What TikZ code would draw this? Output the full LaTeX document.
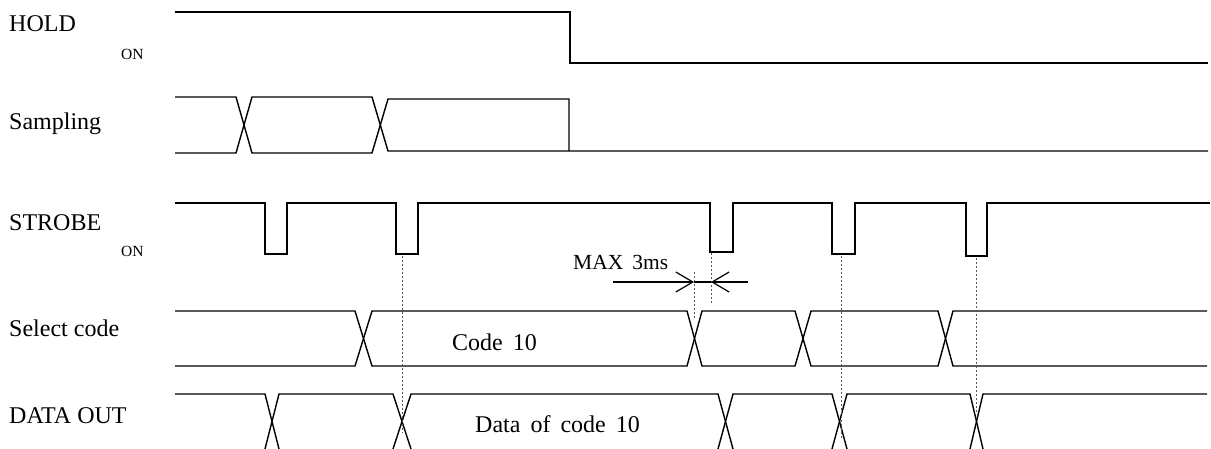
\documentclass[tikz,border=0pt]{standalone}
\usepackage{fontspec}
\setmainfont{Liberation Serif}
\usetikzlibrary{arrows.meta}

\begin{document}
\begin{tikzpicture}[
    x=1pt, y=-1pt,
    signal/.style={
        line width=1.4pt,
        line join=miter
    },
    guide/.style={
        draw=black!65,
        line width=0.7pt,
        dash pattern=on 2pt off 2pt
    },
    siglabel/.style={
        anchor=base west,
        inner sep=0pt,
        font=\fontsize{24}{29}\selectfont
    },
    onlabel/.style={
        anchor=base west,
        inner sep=0pt,
        font=\fontsize{15.5}{18}\selectfont
    },
    barb/.style={
        line width=1.2pt,
        -{Straight Barb[length=17pt, width=20pt, line width=1.2pt]}
    }
]
\useasboundingbox (0,0) rectangle (1211,449);

% ==================== SIGNAL NAMES ====================
\node (l_hold) [siglabel] at (9,32) {HOLD};
\node (l_holdon) [onlabel] at (121,60) {ON};
\node (l_samp) [siglabel] at (9,130) {Sampling};
\node (l_strobe) [siglabel] at (9,231) {STROBE};
\node (l_strobeon) [onlabel] at (121,257) {ON};
\node (l_sel) [siglabel] at (9,337) {Select code};
\node (l_data) [siglabel] at (9,423) {DATA OUT};

% ==================== HOLD ====================
\draw [signal] (175,12) -- (570,12) -- (570,63) -- (1208,63);

% ==================== SAMPLING ====================
\draw [signal] (175,97) -- (236,97) -- (252,153) -- (372,153) -- (388,99) -- (569,99) -- (569,151);
\draw [signal] (175,153) -- (236,153) -- (252,97) -- (372,97) -- (388,151) -- (1208,151);

% ==================== STROBE ====================
\draw [signal] (175,203) -- (265,203) -- (265,254) -- (287,254) -- (287,203)
    -- (396,203) -- (396,254) -- (418,254) -- (418,203)
    -- (710,203) -- (710,252) -- (733,252) -- (733,203)
    -- (832,203) -- (832,254) -- (855,254) -- (855,203)
    -- (966,203) -- (966,256) -- (987,256) -- (987,203)
    -- (1210,203);

% ==================== SELECT CODE ====================
\draw [signal] (175,311) -- (355,311) -- (372,366) -- (687,366) -- (702,311)
    -- (795,311) -- (811,366) -- (938,366) -- (953,311) -- (1207,311);
\draw [signal] (175,366) -- (355,366) -- (372,311) -- (687,311) -- (702,366)
    -- (795,366) -- (811,311) -- (938,311) -- (953,366) -- (1207,366);
\node (t_code) [siglabel] at (452,350) {Code\,\ 10};

% ==================== DATA OUT ====================
\draw [signal] (175,394) -- (265,394) -- (279,449);
\draw [signal] (265,449) -- (279,394) -- (393,394) -- (411,449);
\draw [signal] (393,449) -- (411,394) -- (718,394) -- (733,449);
\draw [signal] (718,449) -- (733,394) -- (832,394) -- (847,449);
\draw [signal] (832,449) -- (847,394) -- (970,394) -- (983,449);
\draw [signal] (970,449) -- (983,394) -- (1207,394);
\node (t_data) [siglabel] at (475,432) {Data\,\ of\,\ code\,\ 10};

% ==================== TIMING GUIDES ====================
\draw [guide] (402,256) -- (402,433);
\draw [guide] (694,272) -- (694,318);
\draw [guide] (711,253) -- (711,303);
\draw [guide] (841,256) -- (841,438);
\draw [guide] (976,258) -- (976,412);

% MAX 3ms window
\coordinate (m_left) at (613,282);
\coordinate (m_a) at (694,282);
\coordinate (m_b) at (711,282);
\coordinate (m_right) at (748,282);
\draw [barb] (m_left) -- (m_a);
\draw [barb] (m_right) -- (m_b);
\draw [line width=1.4pt] (m_a) -- (m_b);
\node (t_max) [siglabel, font=\fontsize{21.5}{26}\selectfont] at (573,270) {MAX\,\ 3ms};

\end{tikzpicture}
\end{document}
